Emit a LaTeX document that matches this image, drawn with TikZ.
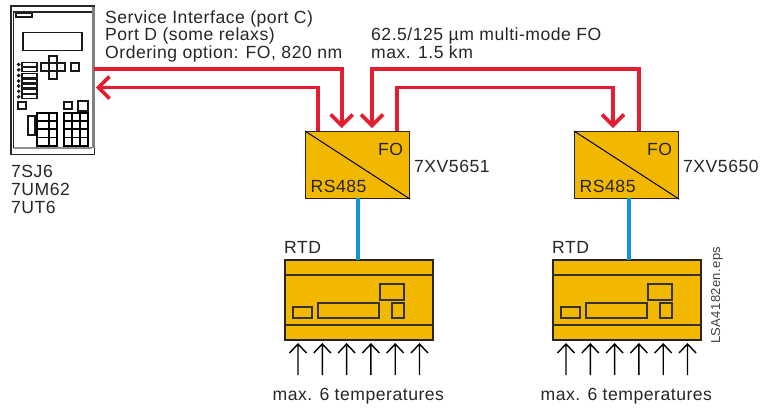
\documentclass[tikz,border=0pt]{standalone}
\usepackage{fontspec}
\setmainfont[LetterSpace=2.9]{Liberation Sans}
\definecolor{gold}{HTML}{F2B800}
\definecolor{fored}{HTML}{E31E30}
\definecolor{rsblue}{HTML}{0F94D6}
\tikzset{
 x=1pt,y=-1pt,
 lbl/.style={inner sep=0pt,anchor=base west,font=\fontsize{17.6}{20}\selectfont,text=black!85},
 fo/.style={draw=fored,line width=3.8pt},
 rs/.style={draw=rsblue,line width=3.8pt},
 box/.style={draw=black!85,line width=1.2pt,fill=gold},
 inner/.style={draw=black!80,line width=1.2pt},
 dev/.style={draw=black!90,line width=1.1pt,fill=white},
 keys/.style={draw=black,line width=1.2pt},
 tempa/.style={draw=black,line width=1.4pt},
}
\newcommand{\redhead}[2]{\draw[fo] (#1-11,#2-11) -- (#1,#2) -- (#1+11,#2-11);}
\newcommand{\tempsym}[1]{\draw[tempa] (#1,375) -- (#1,344) (#1-8.5,353) -- (#1,344) -- (#1+8.5,353);}
\newcommand{\rtdunit}[1]{%
 \begin{scope}[xshift=#1pt]
 \node[lbl] at (284,253) {RTD};
 \draw[box] (285,260) rectangle (433,340);
 \draw[inner] (285,275) -- (433,275) (285,325) -- (433,325);
 \draw[inner] (293,307) rectangle (312,318);
 \draw[inner] (318,303) rectangle (379,318);
 \draw[inner] (380,284) rectangle (404,300);
 \draw[inner] (392,303) rectangle (404,318);
 \foreach \ax in {298,322.3,346.6,370.9,395.2,419.5}{\tempsym{\ax}}
 \node[lbl] at (272.5,400) {max. 6 temperatures};
 \end{scope}}
\newcommand{\conv}[3]{%
 \begin{scope}[xshift=#1pt]
 \node[box,rectangle,minimum width=104pt,minimum height=67pt,inner sep=0pt,anchor=north west] (#2) at (305,131) {};
 \draw[black,line width=1pt] (#2.north west) -- (#2.south east);
 \node[lbl] at (378,155) {FO};
 \node[lbl] at (310.5,192) {RS485};
 \node[lbl] at (414,172) {#3};
 \end{scope}}
\begin{document}
\begin{tikzpicture}
\useasboundingbox (0,0) rectangle (760,407);
% device
\draw[draw=black!85,line width=1.1pt,fill=white] (11,6) rectangle (94.5,154.5);
\fill[black!50] (91.5,6.5) rectangle (95,148);
\draw[draw=black!85,line width=1.1pt] (13.5,148) -- (13.5,12) -- (91.5,12);
\draw[draw=black!45,line width=1.1pt] (13.5,148) -- (91.5,148);
\draw[dev] (16,13.5) rectangle (32,17);
\draw[dev] (23,32.5) rectangle (82,50.5);
% cursor keys
\draw[dev] (49,56) rectangle (57,63);
\draw[dev] (49,71) rectangle (57,79);
\draw[dev] (41,63) rectangle (49,71);
\draw[dev] (57,63) rectangle (65,71);
\draw[dev] (49,63) rectangle (57,71);
\draw[dev] (71,63) rectangle (79,71);
% LEDs and strips
\foreach \ly in {64.5,69.8,75.5,81,86,91.3,96.8}{
 \draw[dev] (18.7,\ly) circle (1.2);
 \draw[dev] (22,\ly-2) rectangle (37,\ly+2);}
\draw[dev] (18,102) rectangle (26,109);
\draw[dev] (64,102) rectangle (72,109);
\draw[dev] (78,101) rectangle (88,111);
\draw[dev] (28,116) rectangle (35,135);
% keypads
\draw[keys] (37,113) rectangle (57,146);
\draw[keys] (49,113) -- (49,146) (37,121) -- (57,121) (37,129) -- (57,129) (37,137.5) -- (57,137.5);
\draw[keys] (64,113) rectangle (88,146);
\draw[keys] (72,113) -- (72,146) (80,113) -- (80,146) (64,121) -- (88,121) (64,129) -- (88,129) (64,137.5) -- (88,137.5);
\coordinate (devA) at (94,68.7);
\coordinate (devB) at (98.5,87.5);
% device text
\node[lbl] at (11,177) {7SJ6};
\node[lbl] at (11,195) {7UM62};
\node[lbl] at (11,213) {7UT6};
\node[lbl] at (105,23) {Service Interface (port C)};
\node[lbl] at (105,40) {Port D (some relaxs)};
\node[lbl] at (105,58) {Ordering option: FO, 820 nm};
\node[lbl] at (371,40) {62.5/125 µm multi-mode FO};
\node[lbl] at (371,58) {max. 1.5 km};
% converters
\conv{0}{c1}{7XV5651}
\conv{269}{c2}{7XV5650}
% RTD
\rtdunit{0}
\rtdunit{268}
\node[inner sep=0pt,rotate=90,anchor=base west,font=\fontsize{13}{15}\selectfont,text=black!75] at (720,344) {LSA4182en.eps};
% connectors
\coordinate (a) at (341.7,125.5);
\coordinate (c) at (372,125.5);
\coordinate (d) at (613,125.5);
\draw[fo] (devA) -- (341.7,68.7) -- (a);
\draw[fo] (318,131) -- (318,87.5) -- (devB);
\draw[fo] (c) -- (372,68.7) -- (639,68.7) -- (639,131);
\draw[fo] (397,131) -- (397,87.5) -- (613,87.5) -- (d);
\redhead{341.7}{125.5}
\redhead{372}{125.5}
\redhead{613}{125.5}
\draw[fo] (109.5,76.5) -- (98.5,87.5) -- (109.5,98.5);
\draw[rs] (358,198) -- (358,260);
\draw[rs] (629,198) -- (629,260);
\end{tikzpicture}
\end{document}
